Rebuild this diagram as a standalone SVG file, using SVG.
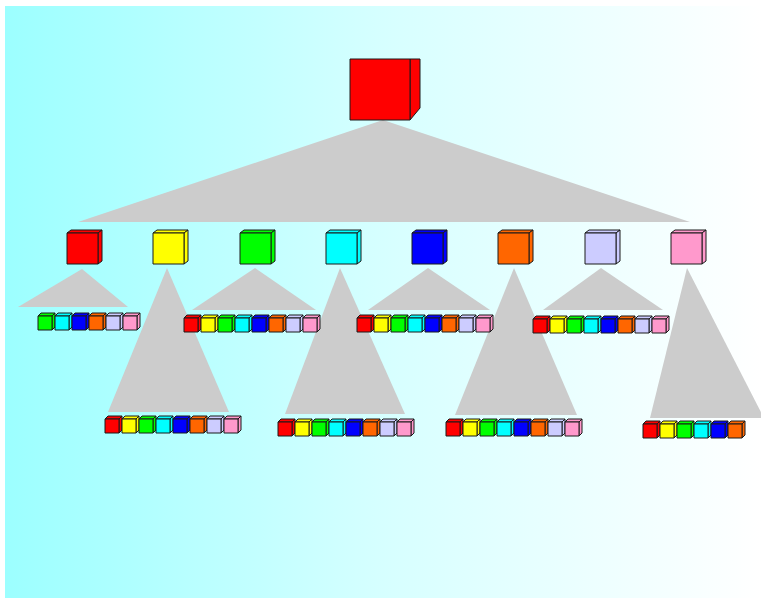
<svg xmlns="http://www.w3.org/2000/svg" xmlns:xlink="http://www.w3.org/1999/xlink" width="761" height="598" viewBox="0 0 761 598">
  <defs>
    <linearGradient id="bgGrad" x1="0" y1="0" x2="1" y2="0">
      <stop offset="0" stop-color="#9cffff"/>
      <stop offset="0.5" stop-color="#d6ffff"/>
      <stop offset="1" stop-color="#ffffff"/>
    </linearGradient>
    <!-- small cube: 14x14 front, depth 3 -->
    <g id="cubeS">
      <polygon points="0,3 3,0 17,0 14,3"/>
      <polygon points="14,3 17,0 17,14 14,17"/>
      <rect x="0" y="3" width="14" height="14"/>
    </g>
    <!-- medium cube: 31x31 front, depth 4 -->
    <g id="cubeM">
      <polygon points="0,3 4,0 35,0 31,3"/>
      <polygon points="31,3 35,0 35,31 31,34"/>
      <rect x="0" y="3" width="31" height="31"/>
    </g>
  </defs>
  <style>
    .cube { stroke: #1a1a1a; stroke-width: 1; stroke-linejoin: round; }
    .tri { fill: #cccccc; stroke: none; }
    .c0 { fill: #ff0000; }
    .c1 { fill: #ffff00; }
    .c2 { fill: #00ff00; }
    .c3 { fill: #00ffff; }
    .c4 { fill: #0000ff; }
    .c5 { fill: #ff6600; }
    .c6 { fill: #ccccff; }
    .c7 { fill: #ff99cc; }
  </style>

  <!-- backdrop -->
  <rect x="5" y="6" width="756" height="592" fill="url(#bgGrad)"/>

  <!-- fan-out wedges -->
  <g id="connectors">
    <polygon class="tri" points="383,120 78,222 690,222"/>
    <polygon class="tri" points="82,269 18,307 128,307"/>
    <polygon class="tri" points="255,268 192,310 316,310"/>
    <polygon class="tri" points="428,268 368,310 490,310"/>
    <polygon class="tri" points="601,268 543,310 663,310"/>
    <polygon class="tri" points="167,268 108,412 229,412"/>
    <polygon class="tri" points="340,268 285,414 405,414"/>
    <polygon class="tri" points="514,268 455,415 577,415"/>
    <polygon class="tri" points="687,268 650,418 764,418"/>
  </g>

  <!-- root -->
  <g id="root" class="cube c0">
    <polygon points="410,59 420,59 420,108 410,120"/>
    <rect x="350" y="59" width="60" height="61"/>
  </g>

  <!-- first level -->
  <g id="n-red" class="cube c0"><use xlink:href="#cubeM" x="67" y="230"/></g>
  <g id="n-yellow" class="cube c1"><use xlink:href="#cubeM" x="153" y="230"/></g>
  <g id="n-green" class="cube c2"><use xlink:href="#cubeM" x="240" y="230"/></g>
  <g id="n-cyan" class="cube c3"><use xlink:href="#cubeM" x="326" y="230"/></g>
  <g id="n-blue" class="cube c4"><use xlink:href="#cubeM" x="412" y="230"/></g>
  <g id="n-orange" class="cube c5"><use xlink:href="#cubeM" x="498" y="230"/></g>
  <g id="n-lavender" class="cube c6"><use xlink:href="#cubeM" x="585" y="230"/></g>
  <g id="n-pink" class="cube c7"><use xlink:href="#cubeM" x="671" y="230"/></g>

  <!-- child rows -->
  <g id="row-red" class="cube" transform="translate(38,313)">
    <use xlink:href="#cubeS" class="c2" x="0"/>
    <use xlink:href="#cubeS" class="c3" x="17"/>
    <use xlink:href="#cubeS" class="c4" x="34"/>
    <use xlink:href="#cubeS" class="c5" x="51"/>
    <use xlink:href="#cubeS" class="c6" x="68"/>
    <use xlink:href="#cubeS" class="c7" x="85"/>
  </g>
  <g id="row-green" class="cube" transform="translate(184,315)">
    <use xlink:href="#cubeS" class="c0" x="0"/>
    <use xlink:href="#cubeS" class="c1" x="17"/>
    <use xlink:href="#cubeS" class="c2" x="34"/>
    <use xlink:href="#cubeS" class="c3" x="51"/>
    <use xlink:href="#cubeS" class="c4" x="68"/>
    <use xlink:href="#cubeS" class="c5" x="85"/>
    <use xlink:href="#cubeS" class="c6" x="102"/>
    <use xlink:href="#cubeS" class="c7" x="119"/>
  </g>
  <g id="row-blue" class="cube" transform="translate(357,315)">
    <use xlink:href="#cubeS" class="c0" x="0"/>
    <use xlink:href="#cubeS" class="c1" x="17"/>
    <use xlink:href="#cubeS" class="c2" x="34"/>
    <use xlink:href="#cubeS" class="c3" x="51"/>
    <use xlink:href="#cubeS" class="c4" x="68"/>
    <use xlink:href="#cubeS" class="c5" x="85"/>
    <use xlink:href="#cubeS" class="c6" x="102"/>
    <use xlink:href="#cubeS" class="c7" x="119"/>
  </g>
  <g id="row-lavender" class="cube" transform="translate(533,316)">
    <use xlink:href="#cubeS" class="c0" x="0"/>
    <use xlink:href="#cubeS" class="c1" x="17"/>
    <use xlink:href="#cubeS" class="c2" x="34"/>
    <use xlink:href="#cubeS" class="c3" x="51"/>
    <use xlink:href="#cubeS" class="c4" x="68"/>
    <use xlink:href="#cubeS" class="c5" x="85"/>
    <use xlink:href="#cubeS" class="c6" x="102"/>
    <use xlink:href="#cubeS" class="c7" x="119"/>
  </g>
  <g id="row-yellow" class="cube" transform="translate(105,416)">
    <use xlink:href="#cubeS" class="c0" x="0"/>
    <use xlink:href="#cubeS" class="c1" x="17"/>
    <use xlink:href="#cubeS" class="c2" x="34"/>
    <use xlink:href="#cubeS" class="c3" x="51"/>
    <use xlink:href="#cubeS" class="c4" x="68"/>
    <use xlink:href="#cubeS" class="c5" x="85"/>
    <use xlink:href="#cubeS" class="c6" x="102"/>
    <use xlink:href="#cubeS" class="c7" x="119"/>
  </g>
  <g id="row-cyan" class="cube" transform="translate(278,419)">
    <use xlink:href="#cubeS" class="c0" x="0"/>
    <use xlink:href="#cubeS" class="c1" x="17"/>
    <use xlink:href="#cubeS" class="c2" x="34"/>
    <use xlink:href="#cubeS" class="c3" x="51"/>
    <use xlink:href="#cubeS" class="c4" x="68"/>
    <use xlink:href="#cubeS" class="c5" x="85"/>
    <use xlink:href="#cubeS" class="c6" x="102"/>
    <use xlink:href="#cubeS" class="c7" x="119"/>
  </g>
  <g id="row-orange" class="cube" transform="translate(446,419)">
    <use xlink:href="#cubeS" class="c0" x="0"/>
    <use xlink:href="#cubeS" class="c1" x="17"/>
    <use xlink:href="#cubeS" class="c2" x="34"/>
    <use xlink:href="#cubeS" class="c3" x="51"/>
    <use xlink:href="#cubeS" class="c4" x="68"/>
    <use xlink:href="#cubeS" class="c5" x="85"/>
    <use xlink:href="#cubeS" class="c6" x="102"/>
    <use xlink:href="#cubeS" class="c7" x="119"/>
  </g>
  <g id="row-pink" class="cube" transform="translate(643,421)">
    <use xlink:href="#cubeS" class="c0" x="0"/>
    <use xlink:href="#cubeS" class="c1" x="17"/>
    <use xlink:href="#cubeS" class="c2" x="34"/>
    <use xlink:href="#cubeS" class="c3" x="51"/>
    <use xlink:href="#cubeS" class="c4" x="68"/>
    <use xlink:href="#cubeS" class="c5" x="85"/>
  </g>
</svg>
